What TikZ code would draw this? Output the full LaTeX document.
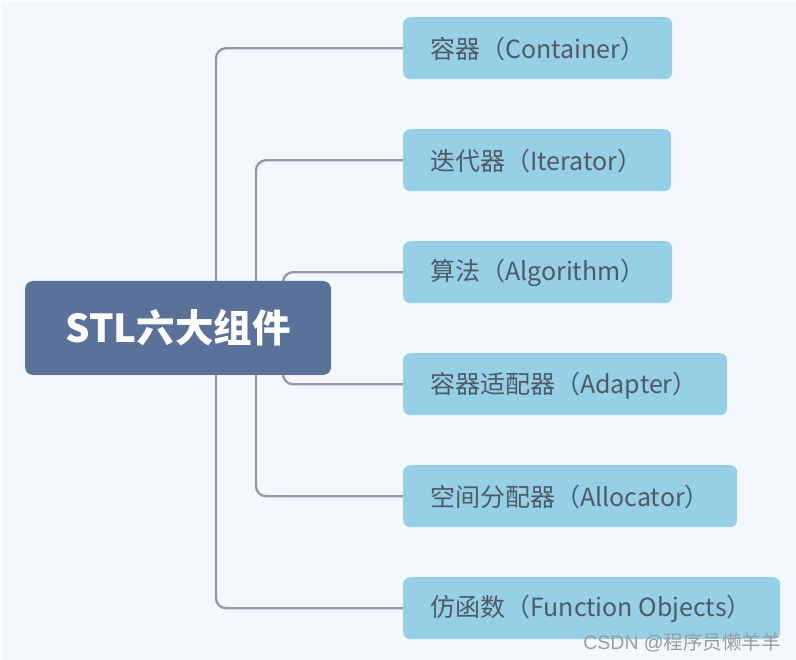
\documentclass[tikz,border=0pt]{standalone}
\usepackage{fontspec}
\setmainfont{Noto Sans CJK SC}
\newfontfamily\wmlatin{Liberation Sans}
\definecolor{bgc}{HTML}{F3F8FC}
\definecolor{rootc}{HTML}{5A7199}
\definecolor{leafc}{HTML}{96D0E6}
\definecolor{linec}{HTML}{8E99AE}
\definecolor{txtc}{HTML}{4F5A66}
\definecolor{wmc}{HTML}{9C9C9C}
\begin{document}
\begin{tikzpicture}[x=1pt,y=-1pt,
  leaf/.style={fill=leafc,rounded corners=7pt,inner sep=0pt,anchor=north west},
  conn/.style={draw=linec,line width=2.3pt,rounded corners=10pt},
  root/.style={fill=rootc,rounded corners=8pt,text=white,
    font=\fontsize{38.5}{44}\selectfont\bfseries,minimum width=306pt,minimum height=94pt,inner sep=0pt}]
\useasboundingbox (0,0) rectangle (796,660);
\fill[white] (0,0) rectangle (796,660);
\fill[bgc] (2,2) rectangle (796,660);
% leaves
\node[leaf,minimum width=269pt,minimum height=62pt] (l1) at (403,17) {};
\node[leaf,minimum width=268pt,minimum height=62pt] (l2) at (403,129) {};
\node[leaf,minimum width=269pt,minimum height=62pt] (l3) at (403,241) {};
\node[leaf,minimum width=324pt,minimum height=62pt] (l4) at (403,353) {};
\node[leaf,minimum width=334pt,minimum height=62pt] (l5) at (403,465) {};
\node[leaf,minimum width=377pt,minimum height=62pt] (l6) at (403,577) {};
\foreach \n/\t in {l1/{容器（Container）},l2/{迭代器（Iterator）},l3/{算法（Algorithm）},
  l4/{容器适配器（Adapter）},l5/{空间分配器（Allocator）},l6/{仿函数（Function Objects）}}{
  \node[anchor=west,inner sep=0pt,text=txtc,font=\fontsize{25}{30}\selectfont] at ([xshift=27pt,yshift=-1pt]\n.west) {\t};
}
% root position
\coordinate (rc) at (178,328);
% connectors
\draw[conn] (l1.west) -| (216,328) |- (l6.west);
\draw[conn] (l2.west) -| (256,328) |- (l5.west);
\draw[conn] (l3.west) -| (283,328) |- (l4.west);
\node[root] (root) at (rc) {STL六大组件};
% watermark
\node[anchor=south east,inner sep=0pt,text=wmc,font=\fontsize{19.5}{23}\selectfont] (wm) at (781,652) {{\wmlatin CSDN @}程序员懒羊羊};
\end{tikzpicture}
\end{document}
